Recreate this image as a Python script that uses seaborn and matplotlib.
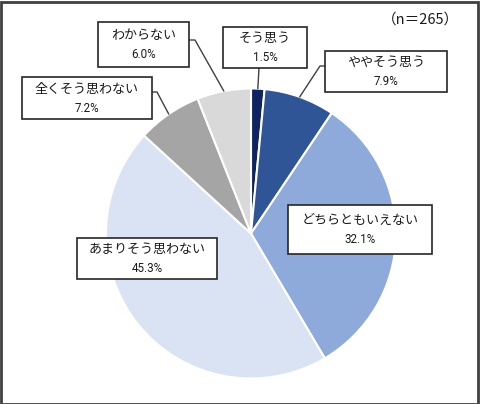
import matplotlib
matplotlib.use("Agg")
import matplotlib.pyplot as plt
import seaborn as sns
import numpy as np
from matplotlib.patches import Rectangle

sns.set_theme(style="white")
plt.rcParams['font.family'] = ['Noto Sans CJK JP', 'DejaVu Sans']

# ---- data ----
categories = ["そう思う", "ややそう思う", "どちらともいえない", "あまりそう思わない", "全くそう思わない", "わからない"]
values = [1.5, 7.9, 32.1, 45.3, 7.2, 6.0]
colors = ["#0e2360", "#2f5597", "#8eaadb", "#dae3f3", "#a5a5a5", "#d9d9d9"]
n_label = "（n＝265）"

W, H = 480, 404
fig = plt.figure(figsize=(W / 100, H / 100), dpi=100)

cx, cy, R = 251, 233.5, 145

# pie axes (drawn first, below labels)
pax = fig.add_axes([(cx - R) / W, (H - cy - R) / H, 2 * R / W, 2 * R / H])
wedges, _ = pax.pie(values, colors=colors, startangle=90, counterclock=False,
                    radius=1.0, wedgeprops=dict(edgecolor="white", linewidth=1.5))
pax.set_xlim(-1, 1)
pax.set_ylim(-1, 1)
pax.set_aspect("equal")
pax.axis("off")

# overlay axes in pixel coordinates for label boxes
ax = fig.add_axes([0, 0, 1, 1])
ax.patch.set_alpha(0)
ax.set_xlim(0, W)
ax.set_ylim(H, 0)
ax.axis("off")

boxes = {
    "そう思う": ((223, 27, 307, 68), [(259, 68)]),
    "ややそう思う": ((325, 51, 447, 92), [(325, 66), (320, 66)]),
    "どちらともいえない": ((288, 205, 432, 254), None),
    "あまりそう思わない": ((77, 238, 217, 279), None),
    "全くそう思わない": ((22, 77, 152, 119), [(152, 92), (157, 92)]),
    "わからない": ((98, 22, 189, 67), [(189, 40), (195, 40)]),
}

total = sum(values)
cum = 0.0
for cat, val in zip(categories, values):
    mid = 90 - (cum + val / 2) / total * 360
    cum += val
    (x0, y0, x1, y1), lead = boxes[cat]
    if lead is not None:
        ex = cx + R * np.cos(np.radians(mid))
        ey = cy - R * np.sin(np.radians(mid))
        pts = lead + [(ex, ey)]
        ax.plot([p[0] for p in pts], [p[1] for p in pts], color="#404040", lw=1.0, zorder=3)
    ax.add_patch(Rectangle((x0, y0), x1 - x0, y1 - y0, facecolor="white",
                           edgecolor="#262626", lw=1.2, zorder=4))
    xm, ym = (x0 + x1) / 2, (y0 + y1) / 2
    ax.text(xm, ym - 9, cat, ha="center", va="center", fontsize=9.4, color="#1a1a1a", zorder=5)
    ax.text(xm, ym + 10, f"{val:.1f}%", ha="center", va="center", fontsize=8.4,
            color="#1a1a1a", zorder=5, family=["Liberation Sans Narrow", "Roboto", "DejaVu Sans"])

ax.text(459, 20, n_label, ha="right", va="center", fontsize=10.5, color="#1a1a1a")

fig.add_artist(Rectangle((0.5 / W, 0.5 / H), 1 - 2.5 / W, 1 - 2.5 / H, transform=fig.transFigure,
                         fill=False, edgecolor="#404040", lw=2))

fig.savefig("out.png", dpi=100)
